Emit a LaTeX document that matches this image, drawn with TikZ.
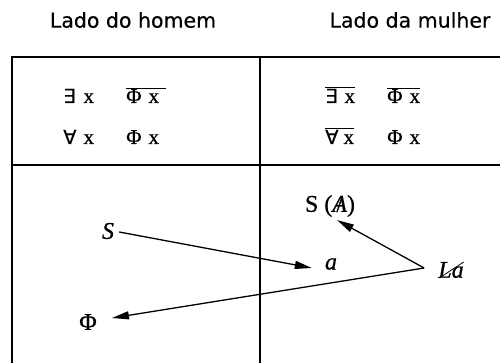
\documentclass[tikz,border=0pt]{standalone}
\usepackage{fontspec}
\setmainfont{Liberation Serif}[FakeBold=0.6]
\newfontfamily\hdrfont{DejaVu Sans}[FakeBold=0.4]
\newfontfamily\symfont{DejaVu Sans}[FakeBold=0.15]
\usetikzlibrary{arrows.meta}
\newcommand\barA{\ooalign{\itshape A\cr\hidewidth/\hidewidth\cr}}
\newcommand\qex{{\symfont\fontsize{19.5}{22}\selectfont ∃}}
\newcommand\qall{{\symfont\fontsize{19.5}{22}\selectfont ∀}}
\begin{document}
\begin{tikzpicture}[x=1pt,y=-1pt,
  tbl/.style={line width=1.7pt},
  hd/.style={font=\hdrfont\fontsize{20.5}{24}\selectfont, inner sep=0pt},
  fm/.style={font=\fontsize{21}{24}\selectfont, inner sep=0pt, anchor=base west},
  lbl/.style={font=\fontsize{24}{28}\selectfont, inner sep=1pt},
  arr/.style={line width=1.3pt, -{Triangle[length=17pt,width=8pt]}},
  barred/.style={path picture={\draw[line width=0.8pt]
     ([shift={(2,-1)}]path picture bounding box.south west) --
     ([shift={(-1,1)}]path picture bounding box.north east);}}]
\useasboundingbox (0,0) rectangle (500,363);
% headers
\node[hd] (h1) at (133,20) {Lado do homem};
\node[hd] (h2) at (410,20) {Lado da mulher};
% table
\draw[tbl] (12,363) -- (12,57) -- (500,57);
\draw[tbl] (12,165) -- (500,165);
\draw[tbl] (260,57) -- (260,363);
% man side formulas
\node[fm] (m1) at (63,103) {\qex\hspace{8pt}x};
\node[fm] (m2) at (126,103) {$\overline{\mbox{Φ\hspace{7pt}x\hspace{7pt}}}$};
\node[fm] (m3) at (63,144) {\qall\hspace{7pt}x};
\node[fm] (m4) at (126,144) {Φ\hspace{7pt}x};
% woman side formulas
\node[fm] (w1) at (325,103) {$\overline{\mbox{\qex\hspace{7pt}x}}$};
\node[fm] (w2) at (387,103) {$\overline{\mbox{Φ\hspace{7pt}x}}$};
\node[fm] (w3) at (325,144) {$\overline{\mbox{\qall\hspace{5pt}x}}$};
\node[fm] (w4) at (387,144) {Φ\hspace{7pt}x};
% lower labels
\node[lbl] (S) at (108,231) {\itshape S};
\node[lbl] (a) at (331,264) {\itshape a};
\node[lbl] (SA) at (330,206) {S (\barA)};
\node[lbl, barred] (La) at (451,270) {\itshape La};
\node[lbl] (Phi) at (88,322) {Φ};
% arrows
\draw[arr] ([shift={(4,1)}]S.east) -- ([shift={(-12,4)}]a.west);
\draw[arr] ([shift={(-13,-2)}]La.west) -- ([shift={(7,2)}]SA.south);
\draw[arr] ([shift={(-13,-2)}]La.west) -- ([shift={(14,-4)}]Phi.east);
\end{tikzpicture}
\end{document}
